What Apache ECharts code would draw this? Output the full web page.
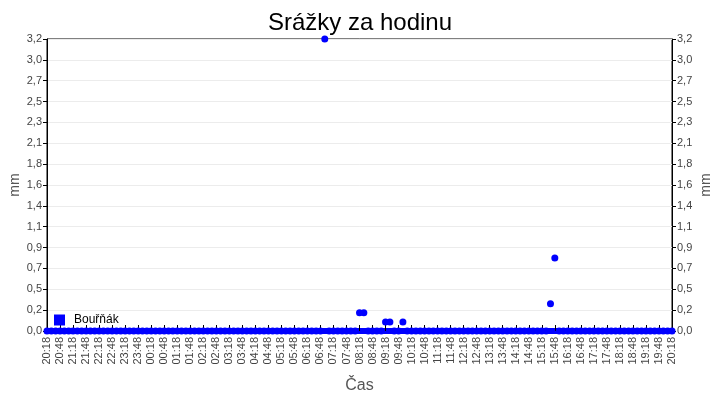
<!DOCTYPE html>
<html>
<head>
<meta charset="utf-8">
<script src="https://cdn.jsdelivr.net/npm/echarts@6/dist/echarts.min.js"></script>
<style>html,body{margin:0;padding:0;background:#fff}#c{width:720px;height:400px}</style>
</head>
<body>
<div id="c"></div>
<script>
var times = [
"20:18","20:28","20:38","20:48","20:58","21:08",
"21:18","21:28","21:38","21:48","21:58","22:08",
"22:18","22:28","22:38","22:48","22:58","23:08",
"23:18","23:28","23:38","23:48","23:58","00:08",
"00:18","00:28","00:38","00:48","00:58","01:08",
"01:18","01:28","01:38","01:48","01:58","02:08",
"02:18","02:28","02:38","02:48","02:58","03:08",
"03:18","03:28","03:38","03:48","03:58","04:08",
"04:18","04:28","04:38","04:48","04:58","05:08",
"05:18","05:28","05:38","05:48","05:58","06:08",
"06:18","06:28","06:38","06:48","06:58","07:08",
"07:18","07:28","07:38","07:48","07:58","08:08",
"08:18","08:28","08:38","08:48","08:58","09:08",
"09:18","09:28","09:38","09:48","09:58","10:08",
"10:18","10:28","10:38","10:48","10:58","11:08",
"11:18","11:28","11:38","11:48","11:58","12:08",
"12:18","12:28","12:38","12:48","12:58","13:08",
"13:18","13:28","13:38","13:48","13:58","14:08",
"14:18","14:28","14:38","14:48","14:58","15:08",
"15:18","15:28","15:38","15:48","15:58","16:08",
"16:18","16:28","16:38","16:48","16:58","17:08",
"17:18","17:28","17:38","17:48","17:58","18:08",
"18:18","18:28","18:38","18:48","18:58","19:08",
"19:18","19:28","19:38","19:48","19:58","20:08",
"20:18"
];
var rain = [
0,0,0,0,0,0,0,0,0,0,0,0,
0,0,0,0,0,0,0,0,0,0,0,0,
0,0,0,0,0,0,0,0,0,0,0,0,
0,0,0,0,0,0,0,0,0,0,0,0,
0,0,0,0,0,0,0,0,0,0,0,0,
0,0,0,0,3.2,0,0,0,0,0,0,0,
0.2,0.2,0,0,0,0,0.1,0.1,0,0,0.1,0,
0,0,0,0,0,0,0,0,0,0,0,0,
0,0,0,0,0,0,0,0,0,0,0,0,
0,0,0,0,0,0,0,0,0.3,0.8,0,0,
0,0,0,0,0,0,0,0,0,0,0,0,
0,0,0,0,0,0,0,0,0,0,0,0,
0
];
var seriesName = "Bouřňák";
var yMax = 3.2;
var ySteps = 14;

var font = "Liberation Sans, Arial, sans-serif";
var blue = '#0000ff';
var fmt = function (v) { return v.toFixed(1).replace('.', ','); };
function yAxis(pos, gap) {
  return {
    type: 'value', position: pos, min: 0, max: yMax, interval: yMax / ySteps,
    name: 'mm', nameLocation: 'middle', nameGap: gap, nameRotate: 90, nameMoveOverlap: false,
    nameTextStyle: { fontSize: 14, color: '#555', fontFamily: font },
    axisLine: { show: true, lineStyle: { color: '#000' } },
    axisTick: { show: true, length: 4, lineStyle: { color: '#000' } },
    axisLabel: { fontSize: 11, color: '#444', fontFamily: font, formatter: fmt, margin: 5 },
    splitLine: { show: true, lineStyle: { color: '#ececec' } }
  };
}
var chart = echarts.init(document.getElementById('c'));
chart.setOption({
  animation: false,
  backgroundColor: '#fff',
  title: { text: 'Srážky za hodinu', left: 'center', top: 6,
    textStyle: { fontSize: 24, fontWeight: 'normal', color: '#000', fontFamily: font } },
  legend: { left: 54, top: 314, padding: 0, icon: 'rect', itemWidth: 11, itemHeight: 11, itemGap: 5,
    textStyle: { fontSize: 12, color: '#000', fontFamily: font, padding: [0, 0, 0, 4] } },
  grid: { left: 47, right: 48, top: 39, bottom: 69, containLabel: false, outerBoundsMode: 'none',
    show: true, borderColor: '#000', borderWidth: 1, backgroundColor: '#fff' },
  xAxis: {
    type: 'category', data: times, boundaryGap: false,
    name: 'Čas', nameLocation: 'middle', nameGap: 47, nameMoveOverlap: false,
    nameTextStyle: { fontSize: 16, color: '#555', fontFamily: font },
    axisLine: { lineStyle: { color: blue, width: 6 } },
    axisTick: { interval: 2, inside: true, length: 6, lineStyle: { color: '#000' } },
    axisLabel: { interval: 2, rotate: 90, fontSize: 11, color: '#444', fontFamily: font, margin: 6 },
    splitLine: { show: false }
  },
  yAxis: [yAxis('left', 25), yAxis('right', 27)],
  series: [{
    name: seriesName, type: 'scatter', data: rain, yAxisIndex: 0,
    symbol: 'circle', symbolSize: 7, clip: false,
    itemStyle: { color: blue, opacity: 1 }
  }]
});
</script>
</body>
</html>
